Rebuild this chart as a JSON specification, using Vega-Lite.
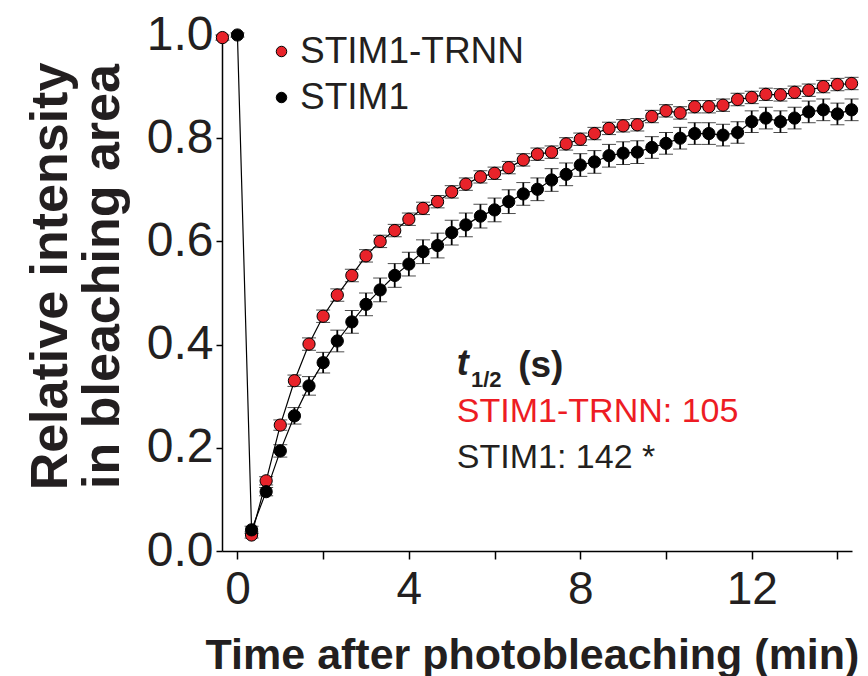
{
  "$schema": "https://vega.github.io/schema/vega-lite/v6.json",
  "width": 630,
  "height": 516,
  "autosize": {"type": "none"},
  "padding": {"left": 222, "top": 35, "right": 16, "bottom": 125},
  "background": "white",
  "config": {"view": {"stroke": null}, "font": "Liberation Sans"},
  "layer": [
    {
      "data": {"values": [
        {"series": "STIM1-TRNN", "t": -0.35, "v": 0.995, "e": 0.005},
        {"series": "STIM1-TRNN", "t": 0.33, "v": 0.031, "e": 0.006},
        {"series": "STIM1-TRNN", "t": 0.67, "v": 0.136, "e": 0.008},
        {"series": "STIM1-TRNN", "t": 1.0, "v": 0.244, "e": 0.01},
        {"series": "STIM1-TRNN", "t": 1.33, "v": 0.330, "e": 0.011},
        {"series": "STIM1-TRNN", "t": 1.67, "v": 0.401, "e": 0.012},
        {"series": "STIM1-TRNN", "t": 2.0, "v": 0.455, "e": 0.012},
        {"series": "STIM1-TRNN", "t": 2.33, "v": 0.496, "e": 0.012},
        {"series": "STIM1-TRNN", "t": 2.67, "v": 0.534, "e": 0.012},
        {"series": "STIM1-TRNN", "t": 3.0, "v": 0.572, "e": 0.012},
        {"series": "STIM1-TRNN", "t": 3.33, "v": 0.600, "e": 0.012},
        {"series": "STIM1-TRNN", "t": 3.67, "v": 0.621, "e": 0.012},
        {"series": "STIM1-TRNN", "t": 4.0, "v": 0.643, "e": 0.012},
        {"series": "STIM1-TRNN", "t": 4.33, "v": 0.664, "e": 0.012},
        {"series": "STIM1-TRNN", "t": 4.67, "v": 0.677, "e": 0.012},
        {"series": "STIM1-TRNN", "t": 5.0, "v": 0.696, "e": 0.012},
        {"series": "STIM1-TRNN", "t": 5.33, "v": 0.711, "e": 0.012},
        {"series": "STIM1-TRNN", "t": 5.67, "v": 0.725, "e": 0.012},
        {"series": "STIM1-TRNN", "t": 6.0, "v": 0.732, "e": 0.012},
        {"series": "STIM1-TRNN", "t": 6.33, "v": 0.743, "e": 0.012},
        {"series": "STIM1-TRNN", "t": 6.67, "v": 0.758, "e": 0.012},
        {"series": "STIM1-TRNN", "t": 7.0, "v": 0.769, "e": 0.012},
        {"series": "STIM1-TRNN", "t": 7.33, "v": 0.773, "e": 0.012},
        {"series": "STIM1-TRNN", "t": 7.67, "v": 0.789, "e": 0.012},
        {"series": "STIM1-TRNN", "t": 8.0, "v": 0.798, "e": 0.012},
        {"series": "STIM1-TRNN", "t": 8.33, "v": 0.809, "e": 0.012},
        {"series": "STIM1-TRNN", "t": 8.67, "v": 0.819, "e": 0.012},
        {"series": "STIM1-TRNN", "t": 9.0, "v": 0.824, "e": 0.012},
        {"series": "STIM1-TRNN", "t": 9.33, "v": 0.826, "e": 0.012},
        {"series": "STIM1-TRNN", "t": 9.67, "v": 0.842, "e": 0.012},
        {"series": "STIM1-TRNN", "t": 10.0, "v": 0.853, "e": 0.012},
        {"series": "STIM1-TRNN", "t": 10.33, "v": 0.849, "e": 0.012},
        {"series": "STIM1-TRNN", "t": 10.67, "v": 0.861, "e": 0.012},
        {"series": "STIM1-TRNN", "t": 11.0, "v": 0.861, "e": 0.012},
        {"series": "STIM1-TRNN", "t": 11.33, "v": 0.864, "e": 0.012},
        {"series": "STIM1-TRNN", "t": 11.67, "v": 0.875, "e": 0.012},
        {"series": "STIM1-TRNN", "t": 12.0, "v": 0.879, "e": 0.012},
        {"series": "STIM1-TRNN", "t": 12.33, "v": 0.885, "e": 0.012},
        {"series": "STIM1-TRNN", "t": 12.67, "v": 0.884, "e": 0.012},
        {"series": "STIM1-TRNN", "t": 13.0, "v": 0.889, "e": 0.012},
        {"series": "STIM1-TRNN", "t": 13.33, "v": 0.893, "e": 0.012},
        {"series": "STIM1-TRNN", "t": 13.67, "v": 0.900, "e": 0.012},
        {"series": "STIM1-TRNN", "t": 14.0, "v": 0.904, "e": 0.012},
        {"series": "STIM1-TRNN", "t": 14.33, "v": 0.906, "e": 0.012},
        {"series": "STIM1", "t": 0.0, "v": 1.0, "e": 0.004},
        {"series": "STIM1", "t": 0.33, "v": 0.041, "e": 0.007},
        {"series": "STIM1", "t": 0.67, "v": 0.115, "e": 0.008},
        {"series": "STIM1", "t": 1.0, "v": 0.194, "e": 0.012},
        {"series": "STIM1", "t": 1.33, "v": 0.262, "e": 0.016},
        {"series": "STIM1", "t": 1.67, "v": 0.320, "e": 0.018},
        {"series": "STIM1", "t": 2.0, "v": 0.365, "e": 0.02},
        {"series": "STIM1", "t": 2.33, "v": 0.407, "e": 0.021},
        {"series": "STIM1", "t": 2.67, "v": 0.444, "e": 0.022},
        {"series": "STIM1", "t": 3.0, "v": 0.478, "e": 0.022},
        {"series": "STIM1", "t": 3.33, "v": 0.506, "e": 0.023},
        {"series": "STIM1", "t": 3.67, "v": 0.534, "e": 0.023},
        {"series": "STIM1", "t": 4.0, "v": 0.556, "e": 0.023},
        {"series": "STIM1", "t": 4.33, "v": 0.580, "e": 0.023},
        {"series": "STIM1", "t": 4.67, "v": 0.592, "e": 0.024},
        {"series": "STIM1", "t": 5.0, "v": 0.617, "e": 0.024},
        {"series": "STIM1", "t": 5.33, "v": 0.632, "e": 0.023},
        {"series": "STIM1", "t": 5.67, "v": 0.649, "e": 0.023},
        {"series": "STIM1", "t": 6.0, "v": 0.661, "e": 0.023},
        {"series": "STIM1", "t": 6.33, "v": 0.677, "e": 0.023},
        {"series": "STIM1", "t": 6.67, "v": 0.692, "e": 0.022},
        {"series": "STIM1", "t": 7.0, "v": 0.701, "e": 0.022},
        {"series": "STIM1", "t": 7.33, "v": 0.719, "e": 0.022},
        {"series": "STIM1", "t": 7.67, "v": 0.730, "e": 0.022},
        {"series": "STIM1", "t": 8.0, "v": 0.748, "e": 0.022},
        {"series": "STIM1", "t": 8.33, "v": 0.754, "e": 0.022},
        {"series": "STIM1", "t": 8.67, "v": 0.766, "e": 0.022},
        {"series": "STIM1", "t": 9.0, "v": 0.771, "e": 0.022},
        {"series": "STIM1", "t": 9.33, "v": 0.773, "e": 0.022},
        {"series": "STIM1", "t": 9.67, "v": 0.782, "e": 0.021},
        {"series": "STIM1", "t": 10.0, "v": 0.790, "e": 0.021},
        {"series": "STIM1", "t": 10.33, "v": 0.800, "e": 0.021},
        {"series": "STIM1", "t": 10.67, "v": 0.809, "e": 0.021},
        {"series": "STIM1", "t": 11.0, "v": 0.809, "e": 0.021},
        {"series": "STIM1", "t": 11.33, "v": 0.806, "e": 0.021},
        {"series": "STIM1", "t": 11.67, "v": 0.811, "e": 0.021},
        {"series": "STIM1", "t": 12.0, "v": 0.832, "e": 0.021},
        {"series": "STIM1", "t": 12.33, "v": 0.839, "e": 0.021},
        {"series": "STIM1", "t": 12.67, "v": 0.832, "e": 0.021},
        {"series": "STIM1", "t": 13.0, "v": 0.839, "e": 0.021},
        {"series": "STIM1", "t": 13.33, "v": 0.851, "e": 0.021},
        {"series": "STIM1", "t": 13.67, "v": 0.855, "e": 0.021},
        {"series": "STIM1", "t": 14.0, "v": 0.847, "e": 0.021},
        {"series": "STIM1", "t": 14.33, "v": 0.855, "e": 0.021}
      ]},
      "encoding": {
        "x": {
          "field": "t", "type": "quantitative",
          "scale": {"domain": [-0.36, 14.34], "nice": false, "zero": false},
          "axis": {
            "values": [0, 2, 4, 6, 8, 10, 12, 14],
            "labelExpr": "datum.value % 4 === 0 ? datum.label : ''",
            "grid": false,
            "title": "Time after photobleaching (min)",
            "titleFont": "Liberation Sans",
            "titleFontSize": 43,
            "titleFontWeight": "bold",
            "titleColor": "#231f20",
            "titleX": 310,
            "titleY": 117,
            "titleBaseline": "alphabetic",
            "titleAlign": "center",
            "labelFont": "Liberation Sans",
            "labelFontSize": 46,
            "labelColor": "#231f20",
            "labelPadding": 8,
            "tickSize": 8,
            "tickWidth": 1.5,
            "tickColor": "black",
            "domainColor": "black",
            "domainWidth": 1.5
          }
        },
        "y": {
          "field": "v", "type": "quantitative",
          "scale": {"domain": [0, 1], "nice": false},
          "axis": {
            "values": [0, 0.2, 0.4, 0.6, 0.8, 1],
            "format": ".1f",
            "grid": false,
            "title": ["Relative intensity", "in bleaching area"],
            "titleFont": "Liberation Sans",
            "titleFontSize": 52,
            "titleFontWeight": "bold",
            "titleColor": "#231f20",
            "titleX": -156,
            "titleY": 241,
            "titleBaseline": "alphabetic",
            "titleLineHeight": 52,
            "titleAlign": "center",
            "labelFont": "Liberation Sans",
            "labelFontSize": 48,
            "labelColor": "#231f20",
            "labelPadding": 3,
            "tickSize": 6,
            "tickWidth": 1.5,
            "tickColor": "black",
            "domainColor": "black",
            "domainWidth": 1.5
          }
        }
      },
      "layer": [
        {
          "mark": {"type": "errorbar", "color": "black", "ticks": {"size": 14, "strokeWidth": 2.2, "color": "black"}, "rule": {"strokeWidth": 1.8, "color": "black"}},
          "encoding": {"yError": {"field": "e"}, "detail": {"field": "series"}}
        },
        {
          "transform": [{"filter": "!(datum.series === 'STIM1-TRNN' && datum.t < 0)"}],
          "mark": {"type": "line", "color": "black", "strokeWidth": 1.2},
          "encoding": {"detail": {"field": "series"}, "order": {"field": "t"}}
        },
        {
          "mark": {"type": "point", "shape": "circle", "filled": true, "size": 150, "stroke": "black", "strokeWidth": 1, "opacity": 1},
          "encoding": {
            "fill": {
              "field": "series", "type": "nominal",
              "scale": {"domain": ["STIM1-TRNN", "STIM1"], "range": ["#e8232a", "#000000"]},
              "legend": {
                "orient": "none", "legendX": 41, "legendY": -2, "title": null, "padding": 0,
                "labelFont": "Liberation Sans", "labelFontSize": 37, "labelColor": "#231f20",
                "labelOffset": 0, "labelLimit": 0, "rowPadding": 8,
                "symbolType": "circle", "symbolSize": 110, "symbolStrokeColor": "black", "symbolStrokeWidth": 1, "symbolOpacity": 1
              }
            },
            "order": {"field": "series", "sort": "descending"}
          }
        }
      ]
    },
    {
      "data": {"values": [{"s": "t"}]},
      "mark": {"type": "text", "align": "left", "baseline": "alphabetic", "font": "Liberation Sans", "fontSize": 36, "fontWeight": "bold", "fontStyle": "italic", "color": "#231f20"},
      "encoding": {"x": {"datum": 5.12, "type": "quantitative"}, "y": {"datum": 0.341, "type": "quantitative"}, "text": {"field": "s", "type": "nominal"}}
    },
    {
      "data": {"values": [{"s": "1/2"}]},
      "mark": {"type": "text", "align": "left", "baseline": "alphabetic", "font": "Liberation Sans", "fontSize": 22, "fontWeight": "bold", "color": "#231f20"},
      "encoding": {"x": {"datum": 5.45, "type": "quantitative"}, "y": {"datum": 0.318, "type": "quantitative"}, "text": {"field": "s", "type": "nominal"}}
    },
    {
      "data": {"values": [{"s": "(s)"}]},
      "mark": {"type": "text", "align": "left", "baseline": "alphabetic", "font": "Liberation Sans", "fontSize": 37, "fontWeight": "bold", "color": "#231f20"},
      "encoding": {"x": {"datum": 6.55, "type": "quantitative"}, "y": {"datum": 0.337, "type": "quantitative"}, "text": {"field": "s", "type": "nominal"}}
    },
    {
      "data": {"values": [{"s": "STIM1-TRNN: 105"}]},
      "mark": {"type": "text", "align": "left", "baseline": "alphabetic", "font": "Liberation Sans", "fontSize": 34, "color": "#ed1c24"},
      "encoding": {"x": {"datum": 5.12, "type": "quantitative"}, "y": {"datum": 0.25, "type": "quantitative"}, "text": {"field": "s", "type": "nominal"}}
    },
    {
      "data": {"values": [{"s": "STIM1: 142 *"}]},
      "mark": {"type": "text", "align": "left", "baseline": "alphabetic", "font": "Liberation Sans", "fontSize": 34, "color": "#231f20"},
      "encoding": {"x": {"datum": 5.12, "type": "quantitative"}, "y": {"datum": 0.161, "type": "quantitative"}, "text": {"field": "s", "type": "nominal"}}
    }
  ]
}
